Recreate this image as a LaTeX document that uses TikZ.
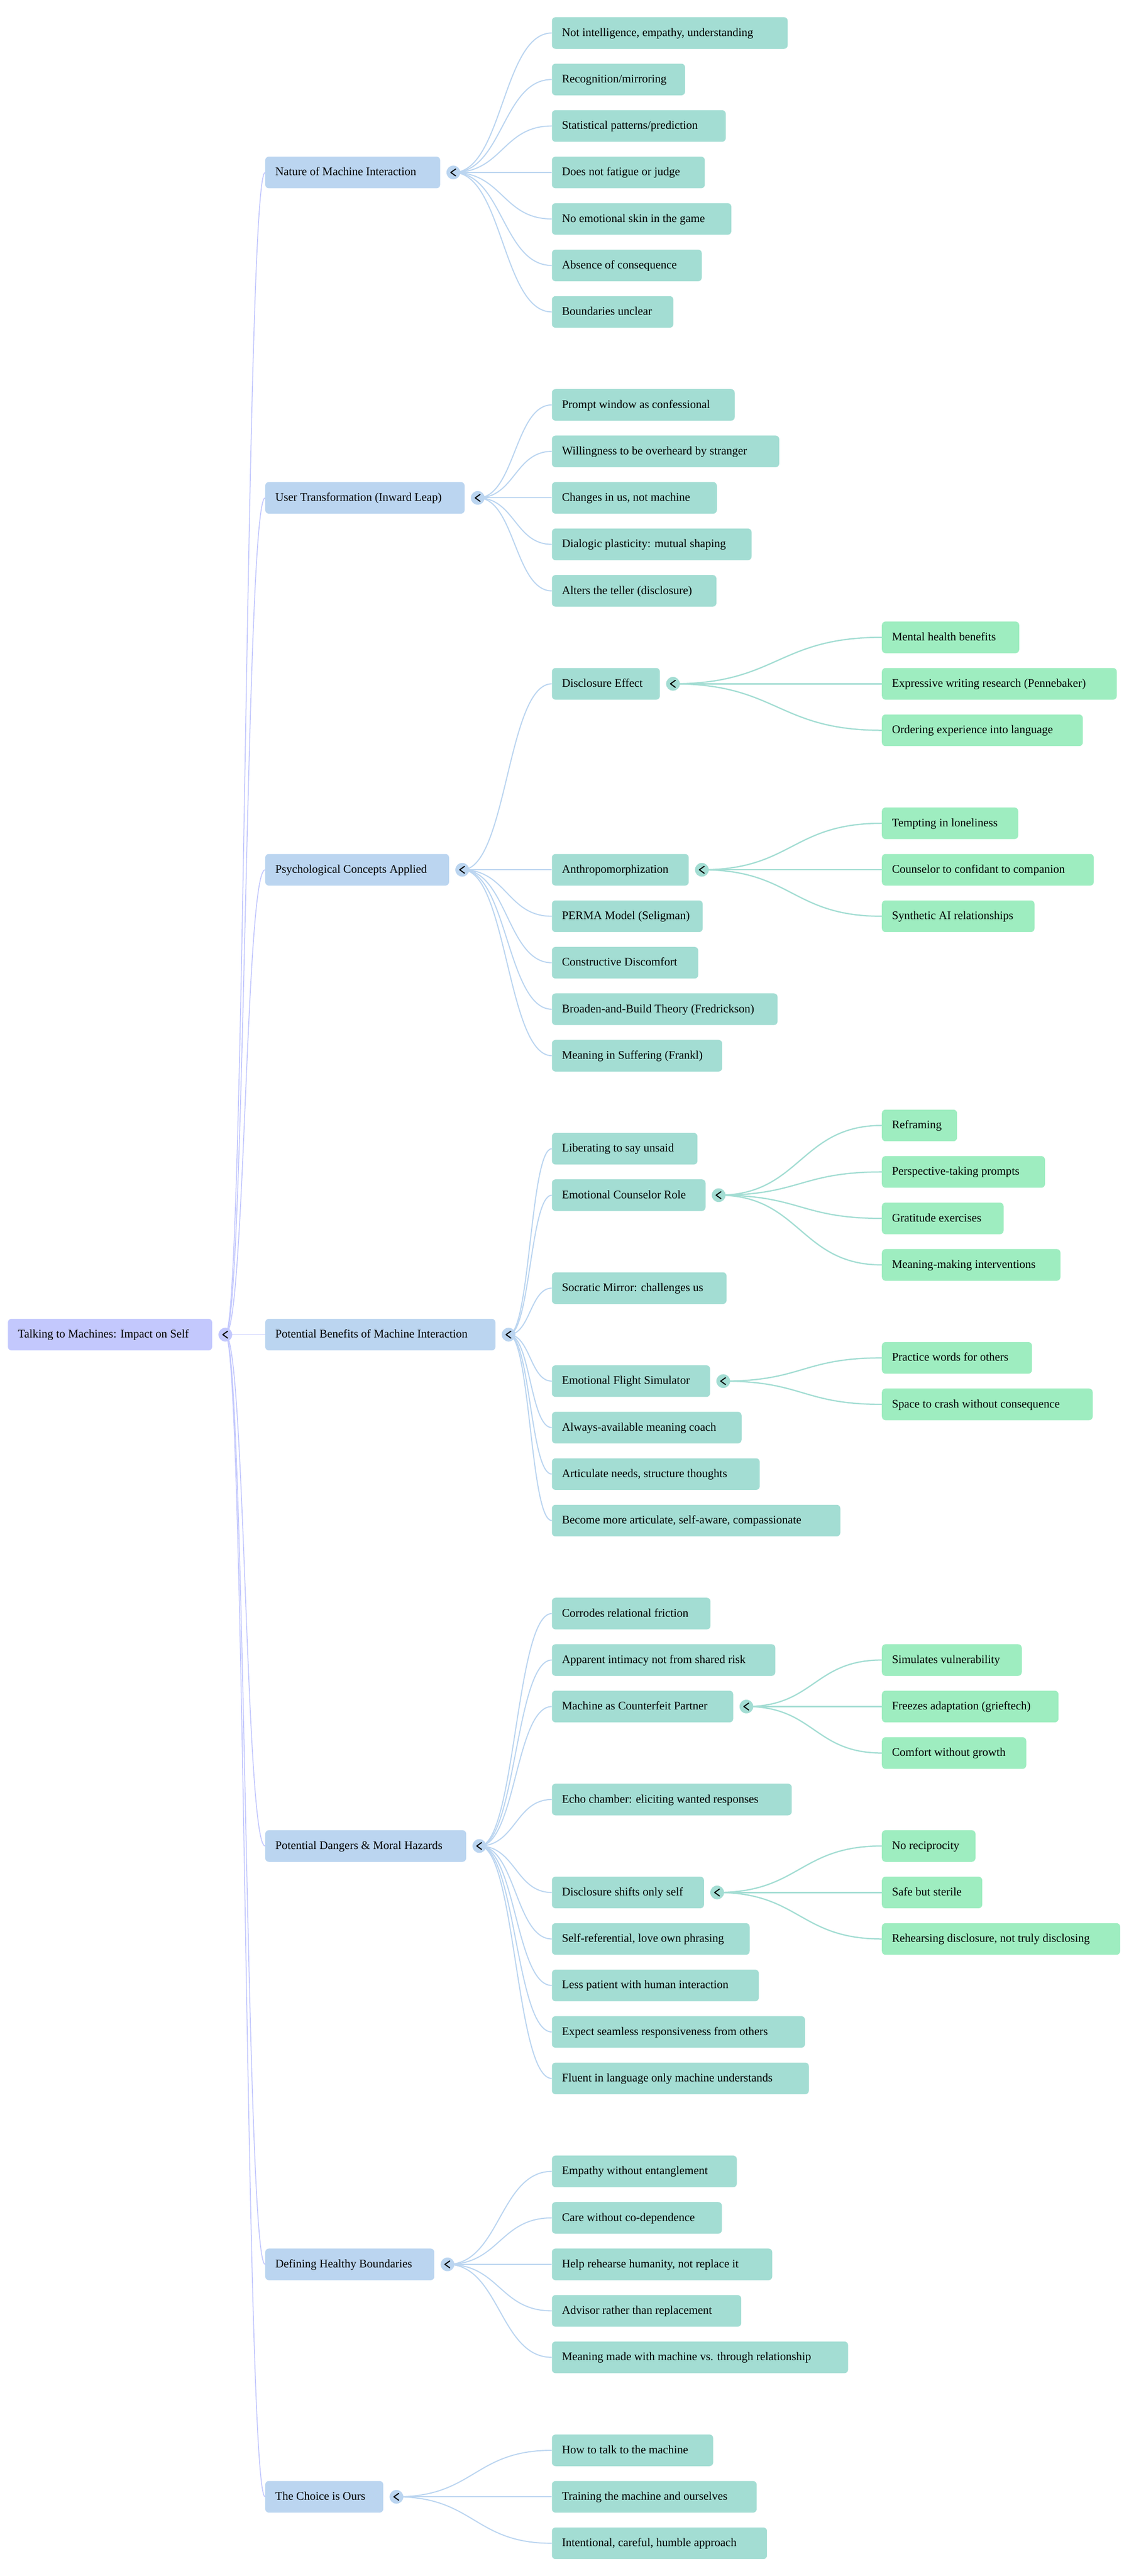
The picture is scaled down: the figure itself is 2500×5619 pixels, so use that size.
\documentclass[tikz,border=0pt]{standalone}
\usepackage{fontspec}
\setmainfont{Liberation Serif}
\newfontfamily\measfont{DejaVu Sans}
\usetikzlibrary{calc}
\pgfdeclarelayer{bg}
\pgfsetlayers{bg,main}
\definecolor{crt}{HTML}{C3C8FD}
\definecolor{cl1}{HTML}{BBD5F0}
\definecolor{cl2}{HTML}{A3DDD3}
\definecolor{cl3}{HTML}{9EEDC0}
\newlength\bxw
\newcommand\mkbox[5]{%
  \node[box, fill=#2, anchor=west] (#1) at (#3,{72+101.4*#4})
    {\settowidth{\bxw}{\fontsize{22.31pt}{26pt}\selectfont\measfont #5}%
     \makebox[\dimexpr\bxw+4.9pt\relax][l]{#5}};%
}
\newcommand\mktog[2]{\node[tog=#2] (#1-t) at ([xshift=28.5pt]#1.east) {};}
\tikzset{
  box/.style={rectangle, rounded corners=8pt, draw=none, inner xsep=22pt, inner ysep=0pt,
    minimum height=69pt, text height=18pt, text depth=4pt, text=black,
    font=\fontsize{25.35pt}{30pt}\selectfont},
  tog/.style={circle, fill=#1, minimum size=30pt, inner sep=0pt,
    path picture={\draw[black, line width=2.3pt, line cap=round, line join=round]
      ([shift={(5pt,7.5pt)}]path picture bounding box.center) --
      ([shift={(-5.5pt,0pt)}]path picture bounding box.center) --
      ([shift={(5pt,-7.5pt)}]path picture bounding box.center);}},
  link/.style={to path={let \p1=(\tikztostart), \p2=(\tikztotarget) in
    .. controls ({(\x1+\x2)/2},\y1) and ({(\x1+\x2)/2},\y2) .. (\tikztotarget)}},
  lk0/.style={link, draw=crt, line width=2pt},
  lk1/.style={link, draw=cl1, line width=2.4pt},
  lk2/.style={link, draw=cl2, line width=2.8pt},
}
\begin{document}
\begin{tikzpicture}[x=1pt, y=-1pt]
\useasboundingbox (0,0) rectangle (2500,5619);
% root
\mkbox{R}{crt}{17}{28}{Talking to Machines: Impact on Self}
% level 1
\mkbox{A}{cl1}{578.5}{3}{Nature of Machine Interaction}
\mkbox{B}{cl1}{578.5}{10}{User Transformation (Inward Leap)}
\mkbox{C}{cl1}{578.5}{18}{Psychological Concepts Applied}
\mkbox{D}{cl1}{578.5}{28}{Potential Benefits of Machine Interaction}
\mkbox{E}{cl1}{578.5}{39}{Potential Dangers \& Moral Hazards}
\mkbox{F}{cl1}{578.5}{48}{Defining Healthy Boundaries}
\mkbox{G}{cl1}{578.5}{53}{The Choice is Ours}
% level 2
\mkbox{a1}{cl2}{1204}{0}{Not intelligence, empathy, understanding}
\mkbox{a2}{cl2}{1204}{1}{Recognition/mirroring}
\mkbox{a3}{cl2}{1204}{2}{Statistical patterns/prediction}
\mkbox{a4}{cl2}{1204}{3}{Does not fatigue or judge}
\mkbox{a5}{cl2}{1204}{4}{No emotional skin in the game}
\mkbox{a6}{cl2}{1204}{5}{Absence of consequence}
\mkbox{a7}{cl2}{1204}{6}{Boundaries unclear}
\mkbox{b1}{cl2}{1204}{8}{Prompt window as confessional}
\mkbox{b2}{cl2}{1204}{9}{Willingness to be overheard by stranger}
\mkbox{b3}{cl2}{1204}{10}{Changes in us, not machine}
\mkbox{b4}{cl2}{1204}{11}{Dialogic plasticity: mutual shaping}
\mkbox{b5}{cl2}{1204}{12}{Alters the teller (disclosure)}
\mkbox{c1}{cl2}{1204}{14}{Disclosure Effect}
\mkbox{c2}{cl2}{1204}{18}{Anthropomorphization}
\mkbox{c3}{cl2}{1204}{19}{PERMA Model (Seligman)}
\mkbox{c4}{cl2}{1204}{20}{Constructive Discomfort}
\mkbox{c5}{cl2}{1204}{21}{Broaden-and-Build Theory (Fredrickson)}
\mkbox{c6}{cl2}{1204}{22}{Meaning in Suffering (Frankl)}
\mkbox{d1}{cl2}{1204}{24}{Liberating to say unsaid}
\mkbox{d2}{cl2}{1204}{25}{Emotional Counselor Role}
\mkbox{d3}{cl2}{1204}{27}{Socratic Mirror: challenges us}
\mkbox{d4}{cl2}{1204}{29}{Emotional Flight Simulator}
\mkbox{d5}{cl2}{1204}{30}{Always-available meaning coach}
\mkbox{d6}{cl2}{1204}{31}{Articulate needs, structure thoughts}
\mkbox{d7}{cl2}{1204}{32}{Become more articulate, self-aware, compassionate}
\mkbox{e1}{cl2}{1204}{34}{Corrodes relational friction}
\mkbox{e2}{cl2}{1204}{35}{Apparent intimacy not from shared risk}
\mkbox{e3}{cl2}{1204}{36}{Machine as Counterfeit Partner}
\mkbox{e4}{cl2}{1204}{38}{Echo chamber: eliciting wanted responses}
\mkbox{e5}{cl2}{1204}{40}{Disclosure shifts only self}
\mkbox{e6}{cl2}{1204}{41}{Self-referential, love own phrasing}
\mkbox{e7}{cl2}{1204}{42}{Less patient with human interaction}
\mkbox{e8}{cl2}{1204}{43}{Expect seamless responsiveness from others}
\mkbox{e9}{cl2}{1204}{44}{Fluent in language only machine understands}
\mkbox{f1}{cl2}{1204}{46}{Empathy without entanglement}
\mkbox{f2}{cl2}{1204}{47}{Care without co-dependence}
\mkbox{f3}{cl2}{1204}{48}{Help rehearse humanity, not replace it}
\mkbox{f4}{cl2}{1204}{49}{Advisor rather than replacement}
\mkbox{f5}{cl2}{1204}{50}{Meaning made with machine vs. through relationship}
\mkbox{g1}{cl2}{1204}{52}{How to talk to the machine}
\mkbox{g2}{cl2}{1204}{53}{Training the machine and ourselves}
\mkbox{g3}{cl2}{1204}{54}{Intentional, careful, humble approach}
% level 3
\mkbox{c1a}{cl3}{1924}{13}{Mental health benefits}
\mkbox{c1b}{cl3}{1924}{14}{Expressive writing research (Pennebaker)}
\mkbox{c1c}{cl3}{1924}{15}{Ordering experience into language}
\mkbox{c2a}{cl3}{1924}{17}{Tempting in loneliness}
\mkbox{c2b}{cl3}{1924}{18}{Counselor to confidant to companion}
\mkbox{c2c}{cl3}{1924}{19}{Synthetic AI relationships}
\mkbox{d2a}{cl3}{1924}{23.5}{Reframing}
\mkbox{d2b}{cl3}{1924}{24.5}{Perspective-taking prompts}
\mkbox{d2c}{cl3}{1924}{25.5}{Gratitude exercises}
\mkbox{d2d}{cl3}{1924}{26.5}{Meaning-making interventions}
\mkbox{d4a}{cl3}{1924}{28.5}{Practice words for others}
\mkbox{d4b}{cl3}{1924}{29.5}{Space to crash without consequence}
\mkbox{e3a}{cl3}{1924}{35}{Simulates vulnerability}
\mkbox{e3b}{cl3}{1924}{36}{Freezes adaptation (grieftech)}
\mkbox{e3c}{cl3}{1924}{37}{Comfort without growth}
\mkbox{e5a}{cl3}{1924}{39}{No reciprocity}
\mkbox{e5b}{cl3}{1924}{40}{Safe but sterile}
\mkbox{e5c}{cl3}{1924}{41}{Rehearsing disclosure, not truly disclosing}
% toggles
\mktog{R}{crt}
\mktog{A}{cl1}\mktog{B}{cl1}\mktog{C}{cl1}\mktog{D}{cl1}\mktog{E}{cl1}\mktog{F}{cl1}\mktog{G}{cl1}
\mktog{c1}{cl2}\mktog{c2}{cl2}\mktog{d2}{cl2}\mktog{d4}{cl2}\mktog{e3}{cl2}\mktog{e5}{cl2}
% connectors
\begin{pgfonlayer}{bg}
\foreach \c in {A,B,C,D,E,F,G} \draw[lk0] (R-t.center) to (\c.west);
\foreach \c in {a1,a2,a3,a4,a5,a6,a7} \draw[lk1] (A-t.center) to (\c.west);
\foreach \c in {b1,b2,b3,b4,b5} \draw[lk1] (B-t.center) to (\c.west);
\foreach \c in {c1,c2,c3,c4,c5,c6} \draw[lk1] (C-t.center) to (\c.west);
\foreach \c in {d1,d2,d3,d4,d5,d6,d7} \draw[lk1] (D-t.center) to (\c.west);
\foreach \c in {e1,e2,e3,e4,e5,e6,e7,e8,e9} \draw[lk1] (E-t.center) to (\c.west);
\foreach \c in {f1,f2,f3,f4,f5} \draw[lk1] (F-t.center) to (\c.west);
\foreach \c in {g1,g2,g3} \draw[lk1] (G-t.center) to (\c.west);
\foreach \c in {c1a,c1b,c1c} \draw[lk2] (c1-t.center) to (\c.west);
\foreach \c in {c2a,c2b,c2c} \draw[lk2] (c2-t.center) to (\c.west);
\foreach \c in {d2a,d2b,d2c,d2d} \draw[lk2] (d2-t.center) to (\c.west);
\foreach \c in {d4a,d4b} \draw[lk2] (d4-t.center) to (\c.west);
\foreach \c in {e3a,e3b,e3c} \draw[lk2] (e3-t.center) to (\c.west);
\foreach \c in {e5a,e5b,e5c} \draw[lk2] (e5-t.center) to (\c.west);
\end{pgfonlayer}
\end{tikzpicture}
\end{document}
